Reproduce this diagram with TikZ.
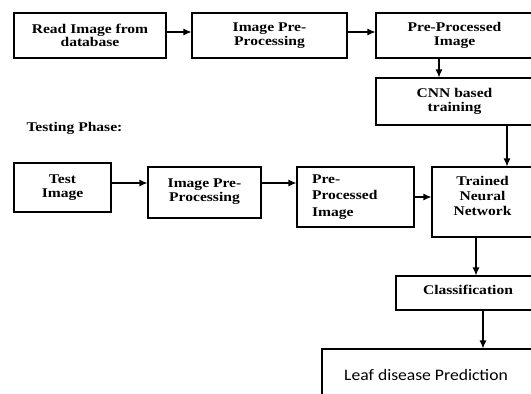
\documentclass[tikz,border=0pt]{standalone}
\usepackage{fontspec}
\setmainfont{Liberation Serif}[FakeStretch=1.17]
\newfontfamily\leaffont{Carlito}[FakeStretch=1.1]
\usepackage{tikz}
\usetikzlibrary{calc,arrows.meta}

\begin{document}
\begin{tikzpicture}[x=1pt,y=-1pt,
    blk/.style={draw,line width=1.1pt,align=center,inner sep=0pt,
      font=\fontsize{13.3}{13.5}\selectfont\bfseries},
    arr/.style={-{Latex[length=8pt,width=7pt]},line width=1.1pt}]
      \clip (0,0) rectangle (531,394);
      \fill[white] (0,0) rectangle (531,394);
      % training phase
      \node [blk,minimum width=152pt,minimum height=45pt] (read) at (90,35.5) {Read Image from\\database};
      \node [blk,minimum width=155pt,minimum height=45pt] (pre) at (269.5,35.5) {Image Pre-\\Processing};
      \node [blk,minimum width=157pt,minimum height=45pt] (ppi) at (454.5,35.5) {Pre-Processed\\Image};
      \node [blk,minimum width=157pt,minimum height=47pt] (cnn) at (454.5,101.5) {CNN based\\training};
      \node [font=\fontsize{13.3}{13.5}\selectfont\bfseries,anchor=west] (phase) at (23,128) {Testing Phase:};
      % testing phase
      \node [blk,minimum width=97pt,minimum height=49pt] (test) at (62.5,187.5) {Test\\Image};
      \node [blk,minimum width=113pt,minimum height=51pt] (tpre) at (204.5,192.5) {Image Pre-\\Processing\\[-9pt]\mbox{}};
      \node [blk,minimum width=117pt,minimum height=60pt,text width=102pt,align=left,inner xsep=0pt,
        font=\fontsize{13.3}{16.5}\selectfont\bfseries] (tppi) at (355.5,197) {\hspace*{7.5pt}Pre-\\\hspace*{7.5pt}Processed\\\hspace*{7.5pt}Image};
      \node [blk,minimum width=101pt,minimum height=70pt,
        font=\fontsize{13.3}{15}\selectfont\bfseries] (trained) at (482.5,202) {Trained\\Neural\\Network\\[-3pt]\mbox{}};
      \node [blk,minimum width=144pt,minimum height=34pt] (cls) at (468,293) {Classification\\[-7pt]\mbox{}};
      \node [blk,minimum width=214pt,minimum height=52pt,font=\fontsize{16}{16}\leaffont] (leaf) at (429,375) {Leaf disease Prediction\hspace*{6pt}};
      % arrows
      \draw [arr] ([yshift=3.5pt]read.east) -- ([yshift=3.5pt]read.east -| pre.west);
      \draw [arr] ([yshift=3.5pt]pre.east) -- ([yshift=3.5pt]pre.east -| ppi.west);
      \draw [arr] ([xshift=-15.5pt]ppi.south) -- ([xshift=-15.5pt]ppi.south |- cnn.north);
      \draw [arr] ([xshift=52.5pt]cnn.south) -- ([xshift=52.5pt]cnn.south |- trained.north);
      \draw [arr] ([yshift=4.5pt]test.east) -- ([yshift=4.5pt]test.east -| tpre.west);
      \draw [arr] ([yshift=9.5pt]tpre.east) -- ([yshift=9.5pt]tpre.east -| tppi.west);
      \draw [arr] (tppi.east) -- (tppi.east -| trained.west);
      \draw [arr] ([xshift=-6.5pt]trained.south) -- ([xshift=-6.5pt]trained.south |- cls.north);
      \draw [arr] ([xshift=15pt]cls.south) -- ([xshift=15pt]cls.south |- leaf.north);
\end{tikzpicture}
\end{document}
